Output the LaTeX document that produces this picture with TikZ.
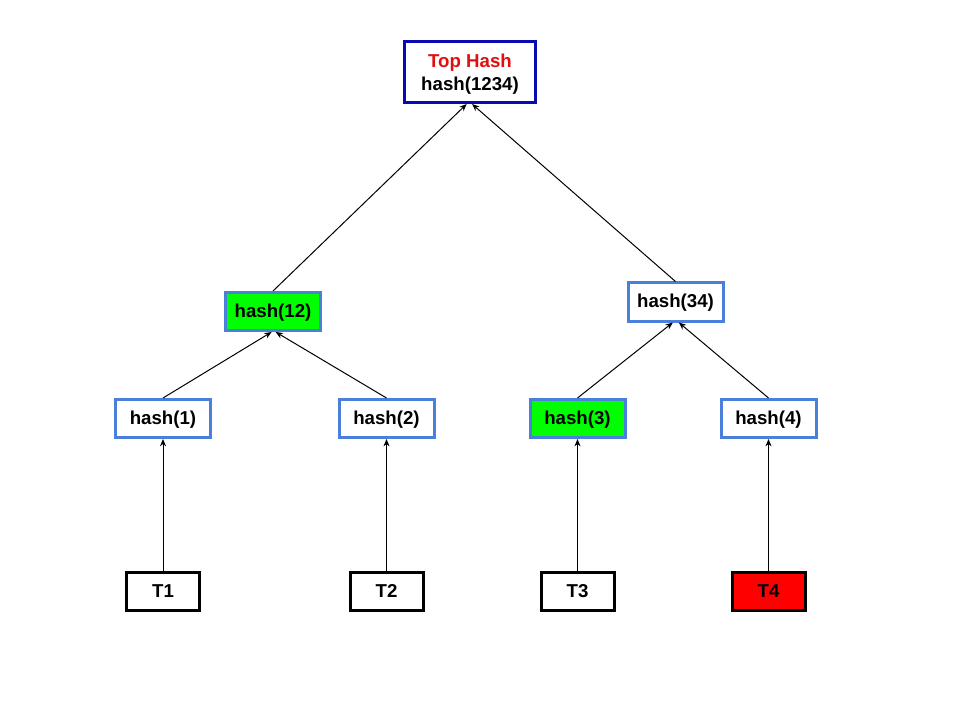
\documentclass[tikz,border=0pt]{standalone}
\usepackage{fontspec}
\setmainfont{Liberation Sans}
\usetikzlibrary{arrows.meta}
\definecolor{topblue}{HTML}{0A0AB4}
\definecolor{boxblue}{HTML}{4A80DC}
\definecolor{leafgreen}{HTML}{00FF00}
\definecolor{alertred}{HTML}{FF0000}
\definecolor{titlered}{HTML}{E01010}
\begin{document}
\begin{tikzpicture}[x=0.75pt,y=-0.75pt,
  every node/.style={font=\fontsize{14}{18}\selectfont\bfseries, inner sep=0pt, text height=11pt, text depth=2.5pt},
  roothash/.style={draw=topblue, line width=2.25pt, fill=white, minimum width=98.25pt, minimum height=45.75pt},
  hashbox/.style={draw=boxblue, line width=2.25pt, fill=white, minimum width=71.25pt, minimum height=28.5pt},
  databox/.style={draw=black, line width=2.25pt, fill=white, minimum width=54.75pt, minimum height=28.5pt},
  marked/.style={fill=leafgreen},
  link/.style={draw=black, line width=0.75pt, -{Stealth[length=5.5pt,width=4.5pt]}}
]
\useasboundingbox[fill=white] (0,0) rectangle (960,720);

% root of the tree
\node[roothash] (top) at (470,72) {};
\node (toptitle) at (470,62) {\textcolor{titlered}{Top Hash}};
\node (topvalue) at (470,85) {hash(1234)};

% inner level
\node[hashbox, marked] (h12) at (273,311.5) {hash(12)};
\node[hashbox] (h34) at (675.5,302) {hash(34)};

% leaf hashes
\node[hashbox] (h1) at (163,418.5) {hash(1)};
\node[hashbox] (h2) at (386.5,418.5) {hash(2)};
\node[hashbox, marked] (h3) at (577.5,418.5) {hash(3)};
\node[hashbox] (h4) at (768.5,418.5) {hash(4)};

% data blocks
\node[databox] (t1) at (163,591.5) {T1};
\node[databox] (t2) at (386.5,591.5) {T2};
\node[databox] (t3) at (577.5,591.5) {T3};
\node[databox, fill=alertred] (t4) at (768.5,591.5) {T4};

% edges towards the root
\draw[link] (h12.north) -- ([xshift=-2.5pt]top.south);
\draw[link] (h34.north) -- ([xshift=1.5pt]top.south);
\draw[link] (h1.north) -- ([xshift=-1pt]h12.south);
\draw[link] (h2.north) -- ([xshift=2pt]h12.south);
\draw[link] (h3.north) -- ([xshift=-2pt]h34.south);
\draw[link] (h4.north) -- ([xshift=2.5pt]h34.south);
\draw[link] (t1.north) -- (h1.south);
\draw[link] (t2.north) -- (h2.south);
\draw[link] (t3.north) -- (h3.south);
\draw[link] (t4.north) -- (h4.south);
\end{tikzpicture}
\end{document}
